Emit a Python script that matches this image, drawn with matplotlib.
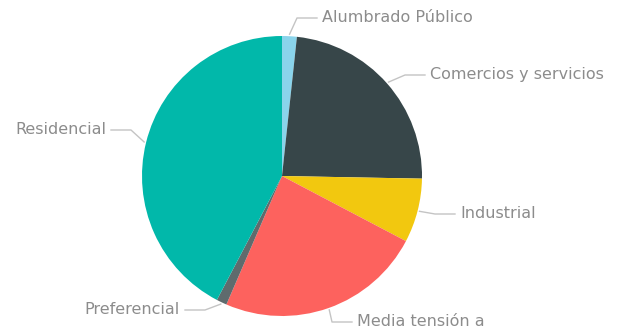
import numpy as np
import matplotlib.pyplot as plt

# slices, clockwise from 12 o'clock
labels = ["Alumbrado Público", "Comercios y servicios", "Industrial",
          "Media tensión a", "Preferencial", "Residencial"]
values = [1.7, 23.6, 7.4, 23.8, 1.2, 42.3]
colors = ["#8AD4EB", "#374649", "#F2C80F", "#FD625E", "#5F6B6D", "#01B8AA"]

# label text anchors in pixel coords (x, y from top), alignment
label_pos = [(322, 18, "left"), (430, 75, "left"), (460, 214, "left"),
             (357, 322, "left"), (180, 310, "right"), (106, 130, "right")]

W, H = 622, 330
cx, cy, r = 282, 176, 140

fig = plt.figure(figsize=(W / 100, H / 100), dpi=100)
ax = fig.add_axes([0, 0, 1, 1])
wedges, _ = ax.pie(values, colors=colors, startangle=90, counterclock=False,
                   center=(cx, H - cy), radius=r,
                   wedgeprops=dict(linewidth=0))
ax.set_xlim(0, W)
ax.set_ylim(0, H)
ax.set_aspect("equal")
ax.axis("off")

line_col = "#c4c4c4"
txt_col = "#8c8c8c"
for w, lab, (tx, ty, ha) in zip(wedges, labels, label_pos):
    ang = np.deg2rad((w.theta1 + w.theta2) / 2)
    sx = cx + (r + 2) * np.cos(ang)
    sy = (H - cy) + (r + 2) * np.sin(ang)
    ty_d = H - ty
    if ha == "left":
        ex, hx = tx - 25, tx - 5
    else:
        ex, hx = tx + 25, tx + 5
    ax.plot([sx, ex, hx], [sy, ty_d, ty_d], color=line_col, lw=1, clip_on=False)
    ax.text(tx, ty_d, lab, ha=ha, va="center", fontsize=11.5,
            color=txt_col, family="DejaVu Sans")

fig.savefig("out.png", dpi=100)
